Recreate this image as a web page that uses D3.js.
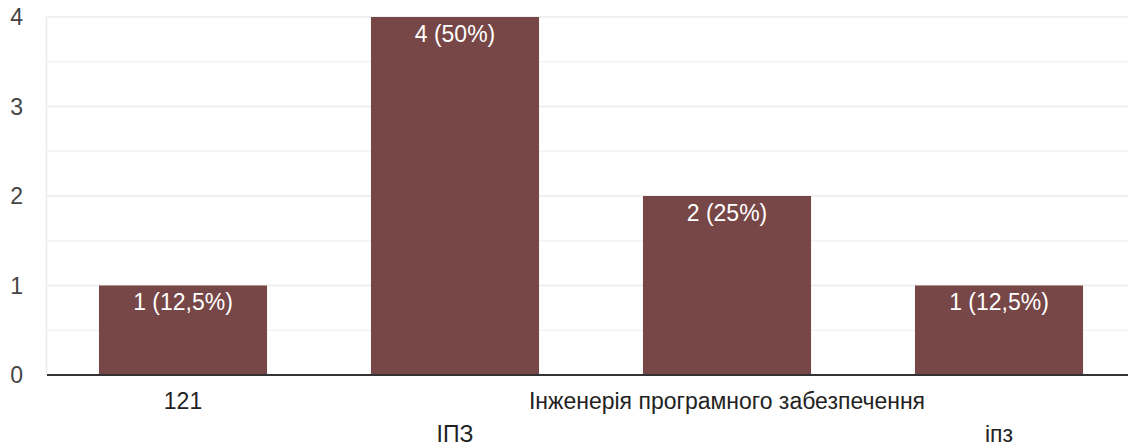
<!DOCTYPE html>
<html><head><meta charset="utf-8">
<script src="https://cdn.jsdelivr.net/npm/d3@7"></script>
<style>body{margin:0;background:#fff;}svg{display:block;font-family:Arial,"Liberation Sans",sans-serif;}</style>
</head><body>
<svg id="c" width="1128" height="448"></svg>
<script>
const categories = ["121", "ІПЗ", "Інженерія програмного забезпечення", "іпз"];
const counts = [1, 4, 2, 1];
const barLabels = ["1 (12,5%)", "4 (50%)", "2 (25%)", "1 (12,5%)"];
const yTicks = [0, 1, 2, 3, 4];
const yMinorTicks = [0.5, 1.5, 2.5, 3.5];

(function () {
const svg = d3.select("#c");
const pLeft = 47, pRight = 1135, pTop = 17, pBottom = 375;
const fs = "23px";
const x = d3.scaleBand().domain(categories).range([pLeft, pRight]).paddingInner(0.382).paddingOuter(0.191);
const y = d3.scaleLinear().domain([0, 4]).range([pBottom, pTop]);

// gridlines
svg.append("g").selectAll("line").data(yMinorTicks).join("line")
  .attr("x1", pLeft).attr("x2", 1128).attr("y1", d => y(d)).attr("y2", d => y(d))
  .attr("stroke", "#f3f3f3").attr("stroke-width", 1.5);
svg.append("g").selectAll("line").data(yTicks.filter(d => d > 0)).join("line")
  .attr("x1", pLeft).attr("x2", 1128).attr("y1", d => y(d)).attr("y2", d => y(d))
  .attr("stroke", "#ebebeb").attr("stroke-width", 1.5);
svg.append("line").attr("x1", pLeft - 0.5).attr("x2", pLeft - 0.5).attr("y1", y(4) - 0.5).attr("y2", pBottom)
  .attr("stroke", "#ebebeb").attr("stroke-width", 1.5);

// y labels
svg.append("g").selectAll("text").data(yTicks).join("text")
  .attr("x", 23).attr("y", d => y(d)).attr("dy", "0.36em")
  .attr("text-anchor", "end").attr("fill", "#444").style("font-size", fs)
  .text(d => d);

// bars
svg.append("g").selectAll("rect").data(categories).join("rect")
  .attr("x", d => x(d)).attr("width", x.bandwidth())
  .attr("y", (d, i) => y(counts[i])).attr("height", (d, i) => pBottom - y(counts[i]))
  .attr("fill", "#774646");

svg.append("g").selectAll("text").data(categories).join("text")
  .attr("x", d => x(d) + x.bandwidth() / 2).attr("y", (d, i) => y(counts[i]) + 24.5)
  .attr("text-anchor", "middle").attr("fill", "#fff").style("font-size", fs)
  .text((d, i) => barLabels[i]);

// baseline
svg.append("line").attr("x1", pLeft).attr("x2", 1128).attr("y1", pBottom).attr("y2", pBottom)
  .attr("stroke", "#333").attr("stroke-width", 2);

// x labels, staggered
svg.append("g").selectAll("text").data(categories).join("text")
  .attr("x", d => x(d) + x.bandwidth() / 2).attr("y", (d, i) => i % 2 === 0 ? 409 : 442)
  .attr("text-anchor", "middle").attr("fill", "#222").style("font-size", fs)
  .text(d => d);
})();
</script>
</body></html>
